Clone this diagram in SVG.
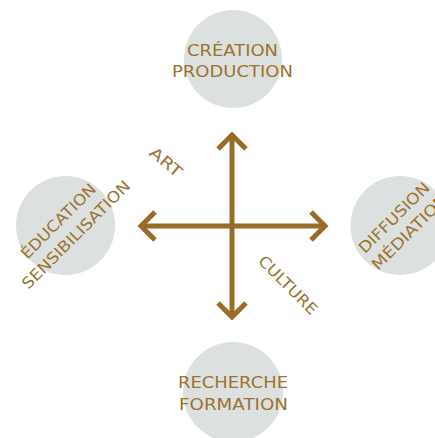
<svg xmlns="http://www.w3.org/2000/svg" width="435" height="438" viewBox="0 0 435 438">
<style>
.c{fill:#dce1df}
.t{font-family:"DejaVu Sans","Liberation Sans",Arial,sans-serif;font-size:15.5px;fill:#9c7230;text-anchor:middle}
.a{fill:none;stroke:#996c28;stroke-width:5}
</style>
<rect width="435" height="438" fill="#ffffff"/>
<g id="node-creation">
<circle class="c" cx="233" cy="59" r="49"/>
<text class="t" x="232.5" y="56" textLength="91" lengthAdjust="spacingAndGlyphs">CRÉATION</text>
<text class="t" x="232.5" y="77" textLength="121" lengthAdjust="spacingAndGlyphs">PRODUCTION</text>
</g>
<g id="node-education">
<circle class="c" cx="65.5" cy="225.5" r="49.5"/>
<g transform="translate(65,225) rotate(-45)">
<text class="t" x="-2" y="-2" textLength="99" lengthAdjust="spacingAndGlyphs">ÉDUCATION</text>
<text class="t" x="1" y="20" textLength="146" lengthAdjust="spacingAndGlyphs">SENSIBILISATION</text>
</g>
</g>
<g id="node-diffusion">
<circle class="c" cx="400" cy="225.5" r="49.5"/>
<g transform="translate(400,225) rotate(-45)">
<text class="t" x="1" y="-4" textLength="93" lengthAdjust="spacingAndGlyphs">DIFFUSION</text>
<text class="t" x="2" y="17" textLength="100" lengthAdjust="spacingAndGlyphs">MÉDIATION</text>
</g>
</g>
<g id="node-recherche">
<circle class="c" cx="233" cy="392" r="50"/>
<text class="t" x="233" y="388" textLength="110" lengthAdjust="spacingAndGlyphs">RECHERCHE</text>
<text class="t" x="233.5" y="410" textLength="109" lengthAdjust="spacingAndGlyphs">FORMATION</text>
</g>
<g id="connectors">
<line class="a" x1="232" y1="134" x2="232" y2="317"/>
<line class="a" x1="141" y1="226" x2="325" y2="226"/>
<polyline class="a" points="218,149 232,135 246,149"/>
<polyline class="a" points="218,303 232,317 246,303"/>
<polyline class="a" points="155,212 141,226 155,240"/>
<polyline class="a" points="311,212 325,226 311,240"/>
<text class="t" transform="translate(166,162) rotate(40)" x="0" y="5.5" textLength="37" lengthAdjust="spacingAndGlyphs">ART</text>
<text class="t" transform="translate(288,285) rotate(45)" x="0" y="5.5" textLength="76" lengthAdjust="spacingAndGlyphs">CULTURE</text>
</g>
</svg>
